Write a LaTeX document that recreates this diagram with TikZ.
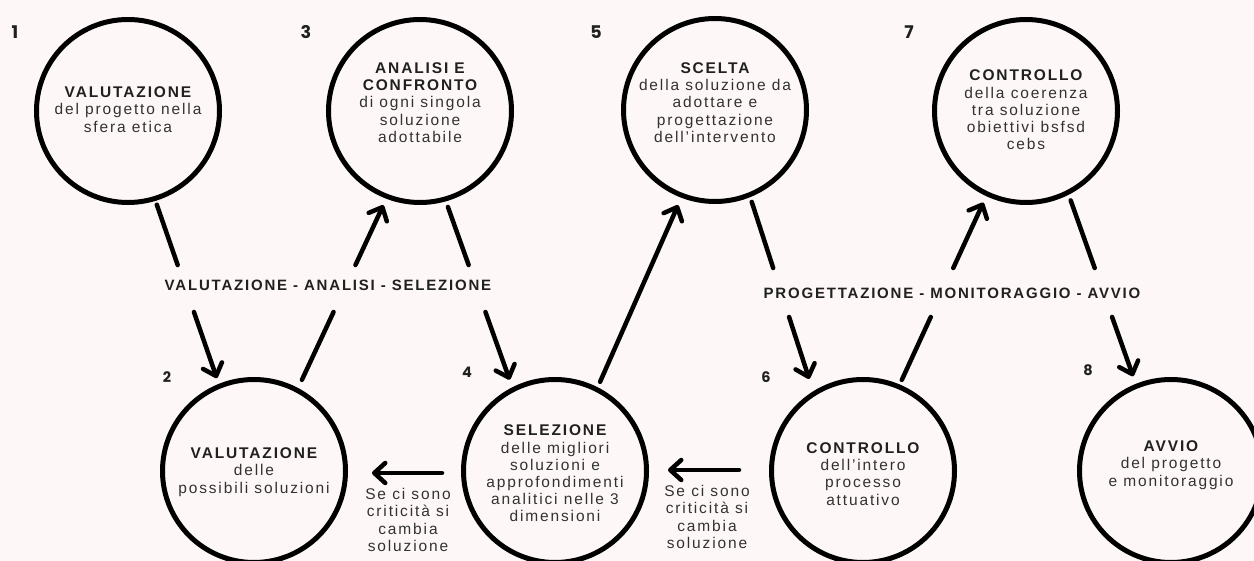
\documentclass[tikz,border=0pt]{standalone}
\usepackage{fontspec}
\setmainfont{Liberation Sans}[LetterSpace=12]
\newfontfamily\numfont{Poppins}
\usetikzlibrary{arrows.meta,calc}
\definecolor{bg}{RGB}{253,248,247}
\definecolor{ink}{RGB}{50,50,50}
\definecolor{inkb}{RGB}{32,32,32}
\begin{document}
\begin{tikzpicture}[x=1pt,y=-1pt,
  circ/.style={circle,draw=black,line width=5pt,minimum size=183pt,inner sep=0pt},
  body/.style={align=center,text=ink,font=\fontsize{15.5}{17.2}\selectfont,inner sep=0pt},
  numtop/.style={font=\numfont\bfseries\fontsize{17.5}{17.5}\selectfont,text=inkb,inner sep=0pt},
  numbot/.style={font=\numfont\bfseries\fontsize{14.5}{14.5}\selectfont,text=inkb,inner sep=0pt},
  midlbl/.style={font=\bfseries\fontsize{15}{17}\selectfont,text=inkb,inner sep=0pt},
  conn/.style={line width=4.5pt,line cap=round,draw=black},
  arr/.style={conn,-{Straight Barb[length=11pt,width=20pt,round]}}]
\useasboundingbox (0,0) rectangle (1254,561);
\fill[bg] (0,0) rectangle (1254,561);
\clip (0,0) rectangle (1254,561);

% circles
\node[circ] (c1) at (128,111) {};
\node[circ] (c3) at (420,111) {};
\node[circ] (c5) at (715,110) {};
\node[circ] (c7) at (1026,111) {};
\node[circ] (c2) at (254,471) {};
\node[circ] (c4) at (555,471) {};
\node[circ] (c6) at (863,471) {};
\node[circ] (c8) at (1171,471) {};

% texts
\node[body] (t1) at (128,109.5) {{\bfseries\color{inkb}VALUTAZIONE}\\del progetto nella\\sfera etica};
\node[body] (t3) at (420,102.5) {{\bfseries\color{inkb}ANALISI E}\\{\bfseries\color{inkb}CONFRONTO}\\di ogni singola\\soluzione\\adottabile};
\node[body] (t5) at (715,102.5) {{\bfseries\color{inkb}SCELTA}\\della soluzione da\\adottare e\\progettazione\\dell'intervento};
\node[body] (t7) at (1026,110) {{\bfseries\color{inkb}CONTROLLO}\\della coerenza\\tra soluzione\\obiettivi bsfsd\\cebs};
\node[body] (t2) at (254,472) {{\bfseries\color{inkb}VALUTAZIONE}\\delle\\possibili soluzioni};
\node[body] (t4) at (555,473.5) {{\bfseries\color{inkb}SELEZIONE}\\delle migliori\\soluzioni e\\approfondimenti\\analitici nelle 3\\dimensioni};
\node[body] (t6) at (863,474) {{\bfseries\color{inkb}CONTROLLO}\\dell'intero\\processo\\attuativo};
\node[body] (t8) at (1171,465) {{\bfseries\color{inkb}AVVIO}\\del progetto\\e monitoraggio};

% numbers
\node[numtop] (n1) at (15,32) {1};
\node[numtop] (n3) at (306,32) {3};
\node[numtop] (n5) at (596,32) {5};
\node[numtop] (n7) at (909,32) {7};
\node[numbot] (n2) at (167,377) {2};
\node[numbot] (n4) at (467,372) {4};
\node[numbot] (n6) at (766,377) {6};
\node[numbot] (n8) at (1088,370) {8};

% middle labels
\node[midlbl] (m1) at (328,285) {VALUTAZIONE - ANALISI - SELEZIONE};
\node[midlbl] (m2) at (952,293) {PROGETTAZIONE - MONITORAGGIO - AVVIO};

% gap lines
\coordinate (gLa) at (0,265); \coordinate (gLb) at (1254,265);
\coordinate (gLc) at (0,312); \coordinate (gLd) at (1254,312);
\coordinate (gRa) at (0,268); \coordinate (gRb) at (1254,268);
\coordinate (gRc) at (0,317); \coordinate (gRd) at (1254,317);

% 1 -> 2
\coordinate (s12) at (c1.-73); \coordinate (e12) at (c2.112);
\coordinate (u12) at (intersection of s12--e12 and gLa--gLb);
\coordinate (v12) at (intersection of s12--e12 and gLc--gLd);
\draw[conn,shorten <=4pt] (s12) -- (u12);
\draw[arr,shorten >=6pt] (v12) -- (e12);
% 2 -> 3
\coordinate (s23) at (c2.62); \coordinate (e23) at (c3.-111.5);
\coordinate (u23) at (intersection of s23--e23 and gLc--gLd);
\coordinate (v23) at (intersection of s23--e23 and gLa--gLb);
\draw[conn,shorten <=9pt] (s23) -- (u23);
\draw[arr,shorten >=7pt] (v23) -- (e23);
% 3 -> 4
\coordinate (s34) at (c3.-74); \coordinate (e34) at (c4.117);
\coordinate (u34) at (intersection of s34--e34 and gLa--gLb);
\coordinate (v34) at (intersection of s34--e34 and gLc--gLd);
\draw[conn,shorten <=6pt] (s34) -- (u34);
\draw[arr,shorten >=8pt] (v34) -- (e34);
% 4 -> 5
\draw[arr,shorten <=6pt,shorten >=8pt] (c4.63) -- (c5.-111);
% 5 -> 6
\coordinate (s56) at (c5.-68); \coordinate (e56) at (c6.122);
\coordinate (u56) at (intersection of s56--e56 and gRa--gRb);
\coordinate (v56) at (intersection of s56--e56 and gRc--gRd);
\draw[conn,shorten <=5pt] (s56) -- (u56);
\draw[arr,shorten >=13pt] (v56) -- (e56);
% 6 -> 7
\coordinate (s67) at (c6.67); \coordinate (e67) at (c7.-115);
\coordinate (u67) at (intersection of s67--e67 and gRc--gRd);
\coordinate (v67) at (intersection of s67--e67 and gRa--gRb);
\draw[conn,shorten <=5pt] (s67) -- (u67);
\draw[arr,shorten >=7pt] (v67) -- (e67);
% 7 -> 8
\coordinate (s78) at (c7.-63); \coordinate (e78) at (c8.112.5);
\coordinate (u78) at (intersection of s78--e78 and gRa--gRb);
\coordinate (v78) at (intersection of s78--e78 and gRc--gRd);
\draw[conn,shorten <=6pt] (s78) -- (u78);
\draw[arr,shorten >=8pt] (v78) -- (e78);

% horizontal feedback arrows
\draw[arr,shorten <=19pt,shorten >=24pt] ([yshift=-2pt]c4.west) -- ([yshift=-2pt]c2.east);
\draw[arr,shorten <=30pt,shorten >=19pt] ([yshift=1pt]c6.west) -- ([yshift=1pt]c4.east);
\node[body] (f1) at (408,520) {Se ci sono\\criticità si\\cambia\\soluzione};
\node[body] (f2) at (707,517) {Se ci sono\\criticità si\\cambia\\soluzione};
\end{tikzpicture}
\end{document}
